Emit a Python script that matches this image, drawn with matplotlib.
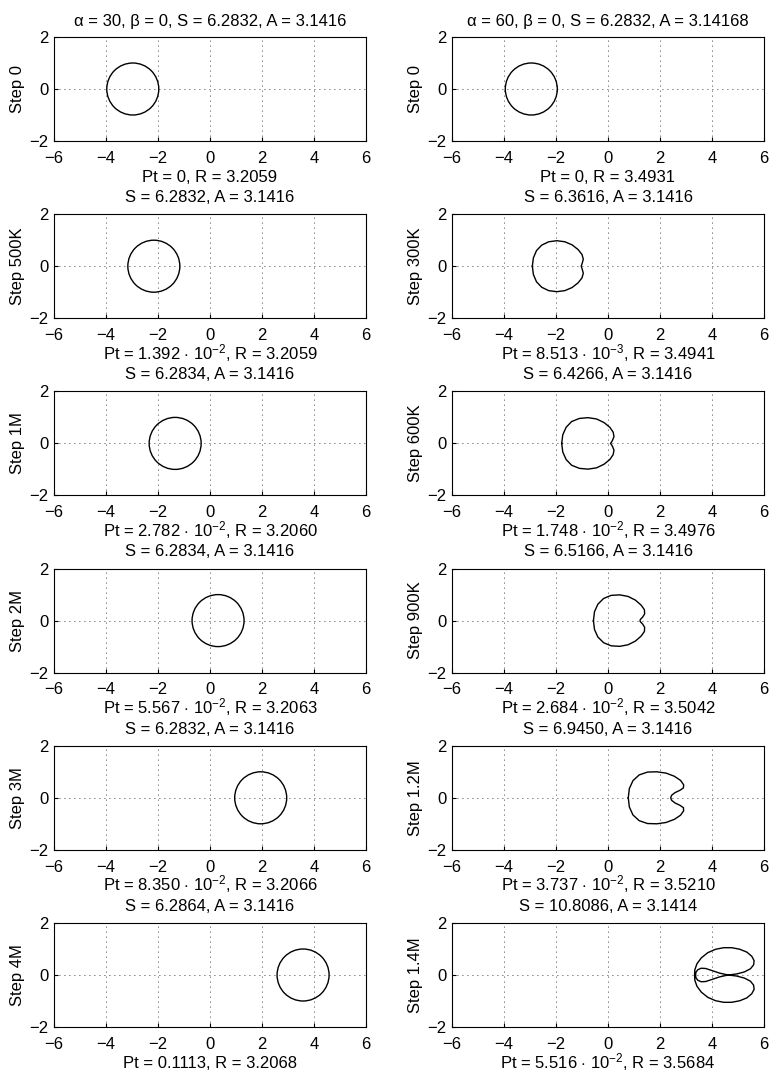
import numpy as np
import matplotlib
matplotlib.use("Agg")
import matplotlib.pyplot as plt

plt.rcParams['font.family'] = ['Liberation Sans', 'DejaVu Sans']
plt.rcParams['font.size'] = 12
plt.rcParams['mathtext.fontset'] = 'custom'
plt.rcParams['mathtext.rm'] = 'Liberation Sans'
plt.rcParams['mathtext.it'] = 'Liberation Sans:italic'
plt.rcParams['mathtext.sf'] = 'Liberation Sans'

# column titles
col_titles = ["\u03b1 = 30, \u03b2 = 0, S = 6.2832, A = 3.1416",
              "\u03b1 = 60, \u03b2 = 0, S = 6.2832, A = 3.14168"]

# left column: alpha = 30, shape stays a circle
left_steps = ["Step 0", "Step 500K", "Step 1M", "Step 2M", "Step 3M", "Step 4M"]
left_centers = [-2.97, -2.16, -1.34, 0.31, 1.95, 3.58]
left_radius = 1.0
left_info = [
    "Pt = 0, R = 3.2059\nS = 6.2832, A = 3.1416",
    "Pt = 1.392 $\\cdot$ 10$^{-2}$, R = 3.2059\nS = 6.2834, A = 3.1416",
    "Pt = 2.782 $\\cdot$ 10$^{-2}$, R = 3.2060\nS = 6.2834, A = 3.1416",
    "Pt = 5.567 $\\cdot$ 10$^{-2}$, R = 3.2063\nS = 6.2832, A = 3.1416",
    "Pt = 8.350 $\\cdot$ 10$^{-2}$, R = 3.2066\nS = 6.2864, A = 3.1416",
    "Pt = 0.1113, R = 3.2068",
]

# right column: alpha = 60, shape deforms
right_steps = ["Step 0", "Step 300K", "Step 600K", "Step 900K", "Step 1.2M", "Step 1.4M"]
right_info = [
    "Pt = 0, R = 3.4931\nS = 6.3616, A = 3.1416",
    "Pt = 8.513 $\\cdot$ 10$^{-3}$, R = 3.4941\nS = 6.4266, A = 3.1416",
    "Pt = 1.748 $\\cdot$ 10$^{-2}$, R = 3.4976\nS = 6.5166, A = 3.1416",
    "Pt = 2.684 $\\cdot$ 10$^{-2}$, R = 3.5042\nS = 6.9450, A = 3.1416",
    "Pt = 3.737 $\\cdot$ 10$^{-2}$, R = 3.5210\nS = 10.8086, A = 3.1414",
    "Pt = 5.516 $\\cdot$ 10$^{-2}$, R = 3.5684",
]
right_start_center = -2.95

# outlines (x, y)
shape_300k_x = [-2.91, -2.87, -2.75, -2.55, -2.28, -1.97, -1.66, -1.38, -1.15, -1.00, -0.95, -0.99, -1.03,
                -0.99, -0.95, -1.00, -1.15, -1.38, -1.66, -1.97, -2.28, -2.55, -2.75, -2.87]
shape_300k_y = [0.00, 0.32, 0.60, 0.81, 0.94, 0.98, 0.94, 0.82, 0.64, 0.45, 0.27, 0.12, 0.00,
                -0.12, -0.27, -0.45, -0.64, -0.82, -0.94, -0.98, -0.94, -0.81, -0.60, -0.32]

shape_600k_x = [-1.78, -1.74, -1.61, -1.40, -1.10, -0.77, -0.44, -0.15, 0.07, 0.20, 0.23, 0.17, 0.10,
                0.17, 0.23, 0.20, 0.07, -0.15, -0.44, -0.77, -1.10, -1.40, -1.61, -1.74]
shape_600k_y = [0.00, 0.33, 0.62, 0.84, 0.96, 0.99, 0.94, 0.80, 0.62, 0.43, 0.26, 0.11, 0.00,
                -0.11, -0.26, -0.43, -0.62, -0.80, -0.94, -0.99, -0.96, -0.84, -0.62, -0.33]

shape_900k_x = [-0.56, -0.52, -0.39, -0.17, 0.12, 0.45, 0.77, 1.05, 1.27, 1.40, 1.41, 1.33, 1.25, 1.23,
                1.25, 1.33, 1.41, 1.40, 1.27, 1.05, 0.77, 0.45, 0.12, -0.17, -0.39, -0.52]
shape_900k_y = [0.00, 0.34, 0.63, 0.85, 0.97, 0.99, 0.93, 0.79, 0.60, 0.42, 0.26, 0.13, 0.05, 0.00,
                -0.05, -0.13, -0.26, -0.42, -0.60, -0.79, -0.93, -0.99, -0.97, -0.85, -0.63, -0.34]

shape_1200k_x = [0.78, 0.82, 0.96, 1.20, 1.52, 1.88, 2.23, 2.55, 2.79, 2.91, 2.90, 2.77, 2.58, 2.45, 2.41,
                 2.45, 2.58, 2.77, 2.90, 2.91, 2.79, 2.55, 2.23, 1.88, 1.52, 1.20, 0.96, 0.82]
shape_1200k_y = [0.00, 0.35, 0.66, 0.88, 0.99, 1.00, 0.95, 0.83, 0.67, 0.50, 0.38, 0.29, 0.20, 0.10, 0.00,
                 -0.10, -0.20, -0.29, -0.38, -0.50, -0.67, -0.83, -0.95, -1.00, -0.99, -0.88, -0.66, -0.35]

shape_1400k_x = [4.62, 4.95, 5.25, 5.48, 5.60, 5.62, 5.53, 5.34, 5.07, 4.76, 4.45, 4.14, 3.84, 3.59, 3.42,
                 3.34, 3.33, 3.34, 3.42, 3.59, 3.84, 4.14, 4.45, 4.76, 5.07, 5.34, 5.53, 5.62, 5.60, 5.48,
                 5.25, 4.95, 4.62, 4.30, 4.00, 3.76, 3.58, 3.45, 3.38, 3.37, 3.38, 3.45, 3.58, 3.76,
                 4.00, 4.30]
shape_1400k_y = [0.00, 0.04, 0.12, 0.24, 0.39, 0.55, 0.72, 0.88, 0.99, 1.05, 1.05, 0.99, 0.86, 0.66, 0.43,
                 0.20, 0.00, -0.20, -0.43, -0.66, -0.86, -0.99, -1.05, -1.05, -0.99, -0.88, -0.72,
                 -0.55, -0.39, -0.24, -0.12, -0.04, 0.00, -0.07, -0.17, -0.25, -0.26, -0.20, -0.10,
                 0.00, 0.10, 0.20, 0.26, 0.25, 0.17, 0.07]

right_shapes = [(shape_300k_x, shape_300k_y), (shape_600k_x, shape_600k_y),
                (shape_900k_x, shape_900k_y), (shape_1200k_x, shape_1200k_y),
                (shape_1400k_x, shape_1400k_y)]

W, H = 770, 1076
fig = plt.figure(figsize=(W / 100, H / 100), dpi=100)

col_left = [54, 452]
col_width = 312
row_top = [37, 214.2, 391.4, 568.6, 745.8, 923]
row_height = 104
# baselines of the two lines under each panel, in px below the axes bottom
info_baselines = [41, 61]


def style_axes(ax):
    ax.set_xlim(-6, 6)
    ax.set_ylim(-2, 2)
    ax.set_xticks([-6, -4, -2, 0, 2, 4, 6])
    ax.set_yticks([-2, 0, 2])
    ax.grid(True, color='black', linestyle=(0, (1, 5)), linewidth=0.6)
    ax.tick_params(direction='in', length=3, width=0.8, pad=7, labelsize=12)
    ax.tick_params(axis='y', pad=4)
    for s in ax.spines.values():
        s.set_linewidth(0.8)


def put_info(ax, text):
    for k, line in enumerate(text.split("\n")):
        ax.text(0.5, -info_baselines[k] / row_height, line, transform=ax.transAxes,
                ha='center', va='baseline', fontsize=12)


for c in range(2):
    for r in range(6):
        x0 = col_left[c] / W
        y0 = 1 - (row_top[r] + row_height) / H
        ax = fig.add_axes([x0, y0, col_width / W, row_height / H])
        style_axes(ax)
        if c == 0:
            circ = plt.Circle((left_centers[r], 0), left_radius, fill=False, color='black', lw=1.0)
            ax.add_patch(circ)
            ax.set_ylabel(left_steps[r], labelpad=3)
            put_info(ax, left_info[r])
        else:
            if r == 0:
                circ = plt.Circle((right_start_center, 0), left_radius, fill=False, color='black', lw=1.0)
                ax.add_patch(circ)
            else:
                sx, sy = right_shapes[r - 1]
                ax.plot(np.append(sx, sx[0]), np.append(sy, sy[0]), color='black', lw=1.0)
            ax.set_ylabel(right_steps[r], labelpad=3)
            put_info(ax, right_info[r])
        if r == 0:
            ax.set_title(col_titles[c], pad=8, fontsize=12)

fig.savefig('out.png', dpi=100)
